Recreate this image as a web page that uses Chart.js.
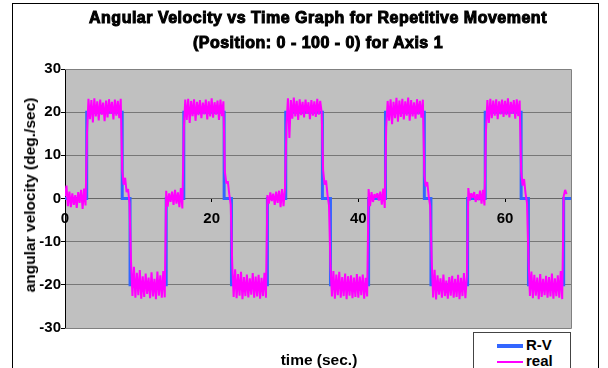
<!DOCTYPE html>
<html lang="en">
<head>
    <meta charset="UTF-8">
    <title>Angular Velocity vs Time</title>
    <script src="https://cdn.jsdelivr.net/npm/chart.js"></script>
    <style>
        html, body { margin: 0; padding: 0; width: 608px; height: 368px; overflow: hidden; background: #fff; }
        .frame { position: absolute; left: 12px; top: 3px; width: 585px; height: 420px; border: 1px solid #000; }
        .chart-box { position: absolute; left: 0; top: 0; }
        .title { position: absolute; left: 0; width: 636px; text-align: center; font-family: "Liberation Sans", Arial, sans-serif; font-weight: bold; font-size: 16px; letter-spacing: 0.5px; color: #000; white-space: nowrap; -webkit-text-stroke: 1px #000; }
        .axis-title { position: absolute; font-family: "Liberation Sans", Arial, sans-serif; font-weight: bold; font-size: 15.5px; color: #000; white-space: nowrap; }
        .y-title { left: 30px; top: 195px; transform: translate(-50%, -50%) rotate(-90deg); }
        .x-title { left: 319px; top: 360px; transform: translate(-50%, -50%); }
        .legend { position: absolute; left: 473px; top: 332px; width: 96px; height: 60px; border: 1px solid #444; background: #fff; }
        .legend-item { position: absolute; left: 23px; font-family: "Liberation Sans", Arial, sans-serif; font-weight: bold; font-size: 15px; line-height: 15px; }
        .legend-line { display: inline-block; width: 26px; vertical-align: middle; margin-right: 3px; }
    </style>
</head>
<body>
    <div class="frame"></div>
    <div class="chart-box">
        <canvas id="velocityChart" width="608" height="368"></canvas>
    </div>
    <div class="title" style="top: 9px;">Angular Velocity vs Time Graph for Repetitive Movement</div>
    <div class="title" style="top: 34px;">(Position: 0 - 100 - 0) for Axis 1</div>
    <div class="axis-title y-title">angular velocity (deg./sec)</div>
    <div class="axis-title x-title">time (sec.)</div>
    <div class="legend">
        <div class="legend-item" style="top: 4px;"><span class="legend-line" style="border-top: 4px solid #3366ff;"></span>R-V</div>
        <div class="legend-item" style="top: 20px;"><span class="legend-line" style="border-top: 2px solid #ff00ff;"></span>real</div>
    </div>
    <script>
        // reference velocity: switch times (sec) and the level held until each one
        const rvTimes = [0, 2.96, 7.8, 8.87, 13.8, 16.2, 21.7, 22.7, 27.6, 30.1, 35.1, 36.2, 41.4, 43.7, 49.0, 49.9, 54.9, 57.3, 62.2, 63.2, 68.0, 69];
        const rvLevels = [0, 20, 0, -20, 0, 20, 0, -20, 0, 20, 0, -20, 0, 20, 0, -20, 0, 20, 0, -20, 0, 0];

        // measured velocity, sampled every 0.2 s from t = 0
        const realStep = 0.2;
        const realValues = [
            // rest
            0.5, 3.0, -1.8, 1.6, -2.0, 1.2, -1.5, 0.8, -2.2, 1.5, -1.0, 2.0, -2.4, 2.3, -1.6,
            // +20
            15.2, 23.1, 18.4, 22.8, 17.6, 23.2, 19.0, 22.5, 18.1, 22.9, 19.4, 22.2, 17.9, 22.7, 18.8, 23.0, 19.6, 22.4, 18.3, 22.9, 19.2, 22.6, 18.6, 23.1,
            6.5, 3.2, 4.8, 1.5, 2.2, -1.2,
            // -20
            -14.5, -22.6, -15.8, -23.0, -17.2, -22.4, -16.6, -23.2, -18.0, -22.8, -17.4, -22.1, -18.3, -23.1, -17.1, -22.7, -18.6, -23.3, -16.9, -22.5, -17.8, -23.0, -16.8, -22.9,
            1.8, -1.9, 1.2, -0.8, 1.6, -1.5, 2.0, -1.2, 1.4, -2.0, 2.4, -2.3,
            16.0, 22.9, 18.2, 23.1, 17.5, 22.6, 19.1, 23.0, 18.0, 22.4, 19.3, 22.8, 18.6, 22.2, 19.5, 22.9, 18.3, 22.5, 19.0, 23.2, 18.7, 22.3, 19.4, 22.7, 18.2, 22.9, 19.1, 22.5,
            6.2, 3.5, 4.0, 1.0, -1.5,
            -15.0, -22.8, -16.4, -23.1, -17.5, -22.5, -17.0, -23.3, -18.2, -22.6, -17.6, -22.9, -18.5, -22.3, -17.3, -23.0, -18.1, -22.7, -17.7, -23.2, -18.4, -22.6, -17.2, -23.0,
            0.8, -1.2, 1.4, -0.6, 1.1, -1.5, 1.6, -1.0, 1.8, -2.0, 2.2, -1.8, 2.5,
            17.0, 23.2, 14.0, 22.8, 18.5, 23.4, 19.0, 22.6, 18.2, 23.0, 19.3, 22.4, 18.8, 22.9, 19.6, 22.3, 18.4, 22.8, 19.2, 22.5, 18.9, 23.1, 19.4, 22.6, 20.0,
            6.5, 3.2, 4.2, 0.8, -1.6,
            -15.5, -22.7, -16.8, -23.2, -17.6, -22.4, -17.0, -23.0, -18.2, -22.6, -17.4, -23.3, -18.0, -22.5, -17.8, -23.1, -18.3, -22.8, -17.5, -23.0, -18.1, -22.4, -17.6, -23.2, -18.4, -22.7,
            2.2, -1.8, 1.5, -0.8, 1.0, 0.2, 1.2, -0.5, 1.6, -1.4, 2.3, -2.2,
            16.5, 22.6, 18.0, 23.0, 17.2, 22.4, 18.6, 23.3, 17.8, 22.7, 18.9, 23.1, 18.3, 22.5, 19.2, 23.4, 18.0, 22.8, 19.0, 22.3, 18.5, 23.0, 19.4, 22.6, 18.7, 22.9,
            5.5, 2.8, 3.8, 0.5, -1.8,
            -14.2, -22.9, -16.5, -23.4, -17.8, -22.3, -18.5, -23.0, -17.6, -22.6, -19.0, -23.2, -18.2, -22.5, -17.9, -23.0, -18.6, -22.8, -17.7, -23.3, -18.4, -22.6, -17.3, -23.1, -18.0,
            2.4, -0.5, 1.2, 0.2, 1.5, -0.8, 1.0, -0.4, 1.8, -1.2, 2.0, -1.6,
            15.5, 22.8, 17.5, 23.1, 18.6, 22.7, 19.2, 23.0, 18.4, 22.5, 19.5, 22.9, 18.9, 22.6, 19.3, 23.2, 18.8, 22.4, 19.6, 22.8, 18.5, 23.0, 19.1, 22.7,
            6.3, 3.0, 4.5, 1.2, -1.0,
            -13.8, -22.6, -16.9, -23.1, -17.7, -22.5, -18.3, -23.3, -17.5, -22.8, -18.6, -22.4, -17.9, -23.0, -18.2, -22.7, -17.4, -23.2, -18.5, -22.6, -17.8, -23.0, -16.8, -23.3,
            0.5, 2.0, 1.0
        ];

        const xTicks = [0, 20, 40, 60];
        const yRange = [-30, 30];

        const rvPoints = rvTimes.map((t, i) => ({ x: t, y: rvLevels[i] }));
        const realPoints = realValues.map((v, i) => ({ x: +(i * realStep).toFixed(1), y: v }));

        const plotBackground = {
            id: 'plotBackground',
            beforeDraw(chart) {
                const { ctx, chartArea: a } = chart;
                ctx.save();
                ctx.fillStyle = '#c0c0c0';
                ctx.fillRect(a.left, a.top, a.right - a.left, a.bottom - a.top);
                ctx.restore();
            },
            afterDraw(chart) {
                const { ctx, chartArea: a } = chart;
                ctx.save();
                ctx.strokeStyle = '#808080';
                ctx.lineWidth = 1;
                ctx.beginPath();
                ctx.moveTo(a.left, a.top + 0.5);
                ctx.lineTo(a.right + 0.5, a.top + 0.5);
                ctx.lineTo(a.right + 0.5, a.bottom + 0.5);
                ctx.lineTo(a.left, a.bottom + 0.5);
                ctx.stroke();
                ctx.restore();
            }
        };

        const tickFont = { family: '"Liberation Sans", Arial, sans-serif', size: 15, weight: 'bold' };

        new Chart(document.getElementById('velocityChart'), {
            type: 'line',
            data: {
                datasets: [
                    {
                        label: 'R-V',
                        data: rvPoints,
                        borderColor: '#3366ff',
                        borderWidth: 3,
                        stepped: 'before',
                        pointRadius: 0,
                        order: 1
                    },
                    {
                        label: 'real',
                        data: realPoints,
                        borderColor: '#ff00ff',
                        borderWidth: 2,
                        borderJoinStyle: 'bevel',
                        pointRadius: 0,
                        order: 0
                    }
                ]
            },
            options: {
                responsive: false,
                animation: false,
                layout: { padding: { top: 69, bottom: 40, left: 0, right: 37 } },
                plugins: {
                    legend: { display: false },
                    tooltip: { enabled: false }
                },
                scales: {
                    x: {
                        type: 'linear',
                        position: { y: 0 },
                        min: 0,
                        max: 69,
                        afterBuildTicks: s => { s.ticks = xTicks.map(v => ({ value: v })); },
                        grid: { drawOnChartArea: false, tickLength: 3, tickColor: '#000' },
                        border: { color: '#666', width: 1 },
                        ticks: { color: '#000', font: tickFont, padding: 8, maxRotation: 0, autoSkip: false }
                    },
                    y: {
                        min: yRange[0],
                        max: yRange[1],
                        afterFit: s => { s.width = 65; },
                        grid: { color: '#777', tickColor: '#000', tickLength: 4 },
                        border: { color: '#000', width: 1 },
                        ticks: { stepSize: 10, color: '#000', font: tickFont, padding: 0 }
                    }
                }
            },
            plugins: [plotBackground]
        });
    </script>
</body>
</html>
